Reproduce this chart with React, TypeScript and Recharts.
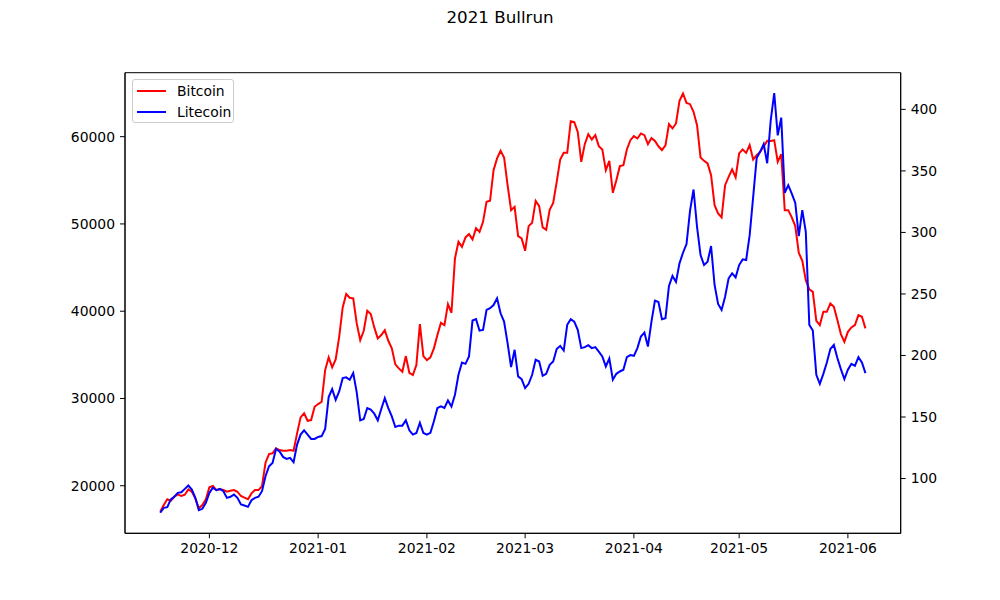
import React from 'react'
import { LineChart, Line, XAxis, YAxis, ReferenceArea, Legend } from 'recharts'

// daily closes, one value per day starting at START_DATE
const START_DATE = '2020-11-17'

const bitcoin = [
  17022, 17789, 18442, 18282, 18740, 19015, 18820, 18969, 19588, 19313,
  18557, 17411, 17789, 18442, 19817, 19966, 19507, 19584, 19507, 19313,
  19427, 19507, 19313, 18820, 18640, 18460, 19125, 19507, 19507, 19966,
  22635, 23631, 23711, 24284, 24090, 24010, 24010, 24090, 24010, 26002,
  27835, 28293, 27446, 27526, 29050, 29359, 29622, 33253, 34708, 33563,
  34479, 37068, 40435, 41960, 41540, 41464, 38601, 36690, 37756, 40046,
  39668, 38143, 36885, 37263, 37836, 36610, 35738, 33906, 33448, 33059,
  34857, 32944, 32681, 33826, 38521, 34857, 34399, 34708, 35740, 37260,
  38671, 38408, 40814, 39817, 46048, 47950, 47377, 48454, 48832, 48225,
  49520, 49096, 50242, 52533, 52647, 56164, 57504, 58375, 57619, 54445,
  51582, 51960, 48603, 48340, 46920, 49749, 50127, 52647, 52040, 49600,
  49330, 51620, 52418, 54823, 57389, 58145, 58145, 61776, 61662, 60551,
  57114, 59141, 60287, 59679, 60173, 58913, 58535, 56164, 57229, 53563,
  55018, 56621, 56736, 58535, 59600, 60058, 59794, 60367, 60173, 59141,
  59850, 59500, 58900, 58454, 58993, 61433, 60940, 61513, 64100, 64949,
  63871, 63723, 62842, 61318, 57618, 57229, 56931, 55590, 52155, 51204,
  50745, 54445, 55396, 56244, 55327, 58077, 58535, 58145, 59027, 57389,
  57880, 58260, 58873, 59520, 59500, 59600, 57114, 57996, 51582, 51582,
  50745, 49749, 46690, 45774, 43563, 42497, 42222, 38901, 38408, 39932,
  39932, 40894, 40505, 38981, 37377, 36495, 37640, 38145, 38408, 39554,
  39359, 38030,
]

const litecoin = [
  72.2, 76.2, 76.7, 83.0, 85.2, 88.4, 88.9, 91.6, 94.3, 91.1,
  84.3, 74.3, 75.4, 80.3, 88.4, 92.5, 90.5, 91.6, 89.7, 84.3,
  85.2, 87.0, 84.3, 78.9, 78.1, 77.0, 82.4, 84.3, 85.2, 89.7,
  101.9, 110.0, 112.7, 124.1, 122.1, 117.6, 116.0, 116.8, 113.2, 127.6,
  135.7, 139.2, 135.7, 132.2, 132.2, 133.8, 134.5, 140.3, 166.2, 172.7,
  164.0, 170.8, 181.6, 182.2, 180.3, 185.7, 170.0, 147.3, 148.4, 157.3,
  156.0, 152.7, 147.3, 156.5, 165.4, 157.3, 150.5, 141.9, 143.0, 143.0,
  147.3, 139.2, 135.7, 137.0, 145.2, 137.0, 135.7, 137.2, 146.5, 157.3,
  158.6, 157.3, 163.5, 158.6, 168.1, 184.3, 194.3, 193.2, 199.2, 228.4,
  229.5, 220.3, 220.8, 237.0, 238.4, 241.0, 246.5, 234.3, 227.5, 210.0,
  190.5, 204.6, 183.0, 180.8, 173.5, 177.0, 184.3, 196.5, 195.1, 183.5,
  185.1, 192.4, 195.1, 205.2, 207.8, 204.0, 224.9, 229.5, 227.5, 220.8,
  206.0, 206.8, 208.4, 206.0, 206.8, 203.2, 199.2, 191.1, 197.5, 180.3,
  185.1, 187.0, 188.4, 198.7, 200.3, 199.7, 206.0, 215.4, 218.6, 207.3,
  227.3, 244.6, 243.5, 229.5, 230.3, 256.5, 264.6, 259.7, 274.9, 283.5,
  290.5, 317.5, 334.9, 304.6, 281.6, 273.5, 276.2, 288.9, 257.3, 241.9,
  237.0, 247.8, 262.7, 266.8, 263.5, 273.5, 278.1, 277.6, 297.8, 328.9,
  360.4, 365.7, 371.9, 356.2, 391.0, 413.2, 378.9, 393.3, 332.1, 338.4,
  331.6, 324.0, 297.0, 318.1, 300.5, 224.9, 220.3, 184.3, 177.0, 185.1,
  194.3, 205.2, 208.6, 197.9, 188.9, 180.8, 188.4, 193.2, 191.6, 198.7,
  194.3, 185.7,
]

const monthTicks = ['2020-12-01', '2021-01-01', '2021-02-01', '2021-03-01', '2021-04-01', '2021-05-01', '2021-06-01']
const btcTicks = [20000, 30000, 40000, 50000, 60000]
const ltcTicks = [100, 150, 200, 250, 300, 350, 400]

const FONT = '"DejaVu Sans", sans-serif'

const dayOf = (iso: string) => (Date.parse(iso) - Date.parse(START_DATE)) / 86400000

const data = bitcoin.map((btc, i) => ({ day: i, btc, ltc: litecoin[i] }))

const last = bitcoin.length - 1
const X_DOMAIN: [number, number] = [-0.05 * last, last * 1.05]
const BTC_DOMAIN: [number, number] = [14550, 67330]
const LTC_DOMAIN: [number, number] = [55.5, 429.8]

const tickFont = { fontSize: 13.9, fontFamily: FONT, fill: '#000' }

const LegendBox = () => (
  <div
    style={{
      width: 102,
      height: 44,
      border: '1px solid #cccccc',
      borderRadius: 3,
      background: 'rgba(255,255,255,0.8)',
      fontFamily: FONT,
      fontSize: 13.9,
      color: '#000',
      boxSizing: 'border-box',
    }}
  >
    {[
      { name: 'Bitcoin', color: '#ff0000' },
      { name: 'Litecoin', color: '#0000ff' },
    ].map((item, i) => (
      <div key={item.name} style={{ position: 'absolute', left: 0, top: i === 0 ? 3 : 24, height: 18, display: 'flex', alignItems: 'center' }}>
        <div style={{ marginLeft: 4.5, width: 29, height: 2, background: item.color }} />
        <span style={{ marginLeft: 11.5, lineHeight: '18px' }}>{item.name}</span>
      </div>
    ))}
  </div>
)

export default function App() {
  return (
    <div style={{ position: 'absolute', left: 0, top: 0, width: 1000, height: 600, background: '#fff' }}>
      <div
        style={{
          position: 'absolute',
          top: 7,
          left: 0,
          width: 1000,
          textAlign: 'center',
          fontFamily: FONT,
          fontSize: 16.7,
          color: '#000',
        }}
      >
        2021 Bullrun
      </div>
      <LineChart width={1000} height={600} data={data} margin={{ top: 72.7, right: 39.3, left: 65, bottom: 36.7 }}>
        <XAxis
          dataKey="day"
          type="number"
          domain={X_DOMAIN}
          allowDataOverflow
          ticks={monthTicks.map(dayOf)}
          tickFormatter={(v: number) => monthTicks[monthTicks.map(dayOf).indexOf(v)]?.slice(0, 7) ?? ''}
          tick={tickFont}
          tickSize={5}
          tickMargin={5}
          height={30}
          axisLine={{ stroke: '#000' }}
          tickLine={{ stroke: '#000' }}
        />
        <YAxis
          yAxisId="left"
          domain={BTC_DOMAIN}
          allowDataOverflow
          ticks={btcTicks}
          tick={tickFont}
          tickSize={5}
          tickMargin={5}
          width={60}
          axisLine={{ stroke: '#000' }}
          tickLine={{ stroke: '#000' }}
        />
        <YAxis
          yAxisId="right"
          orientation="right"
          domain={LTC_DOMAIN}
          allowDataOverflow
          ticks={ltcTicks}
          tick={{ ...tickFont, textAnchor: 'start' }}
          tickSize={5}
          tickMargin={5}
          width={60}
          axisLine={{ stroke: '#000' }}
          tickLine={{ stroke: '#000' }}
        />
        <ReferenceArea
          yAxisId="left"
          x1={X_DOMAIN[0]}
          x2={X_DOMAIN[1]}
          y1={BTC_DOMAIN[0]}
          y2={BTC_DOMAIN[1]}
          fill="none"
          stroke="#000"
          strokeWidth={1}
          ifOverflow="extendDomain"
        />
        <Line
          yAxisId="left"
          dataKey="btc"
          name="Bitcoin"
          type="linear"
          stroke="#ff0000"
          strokeWidth={2}
          dot={false}
          isAnimationActive={false}
        />
        <Line
          yAxisId="right"
          dataKey="ltc"
          name="Litecoin"
          type="linear"
          stroke="#0000ff"
          strokeWidth={2}
          dot={false}
          isAnimationActive={false}
        />
        <Legend
          layout="vertical"
          align="center"
          verticalAlign="middle"
          wrapperStyle={{ position: 'absolute', left: 132, top: 79, width: 104, height: 46 }}
          content={() => <LegendBox />}
        />
      </LineChart>
    </div>
  )
}
